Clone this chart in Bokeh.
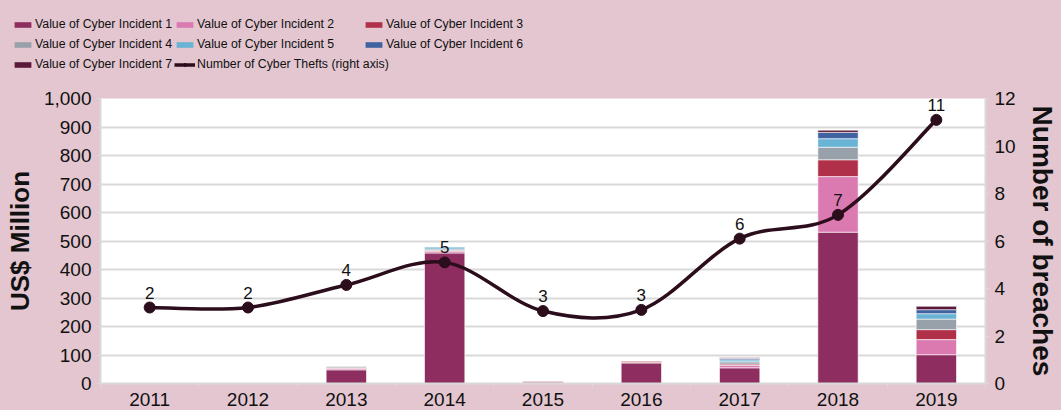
from bokeh.plotting import figure
from bokeh.layouts import column, row
from bokeh.models import (Range1d, LinearAxis, FixedTicker, NumeralTickFormatter,
                          Legend, LegendItem, ColumnDataSource)
from bokeh.core.properties import value
from bokeh.embed import file_html
from bokeh.resources import INLINE

years = [2011, 2012, 2013, 2014, 2015, 2016, 2017, 2018, 2019]
inc1 = [2, 2, 48, 458, 5, 72, 55, 531, 101]
inc2 = [1, 1, 5, 6, 2, 2, 8, 195, 53]
inc3 = [0, 0, 2, 3, 4, 6, 5, 59, 35]
inc4 = [0, 0, 7, 5, 0, 0, 8, 44, 37]
inc5 = [0, 0, 0, 8, 0, 0, 7, 30, 19]
inc6 = [0, 0, 0, 0, 0, 0, 5, 22, 14]
inc7 = [0, 0, 0, 0, 0, 0, 2, 8, 12]
# marker heights as drawn on the right axis, and the printed data labels
thefts = [3.2, 3.2, 4.15, 5.1, 3.05, 3.1, 6.1, 7.1, 11.1]
theft_labels = ["2", "2", "4", "5", "3", "3", "6", "7", "11"]

series_names = ["Value of Cyber Incident %d" % i for i in range(1, 8)]
line_name = "Number of Cyber Thefts (right axis)"
colors = ["#8E2D5F", "#DB79B1", "#B0304A", "#98A1A9", "#69B3D4", "#3F62A1", "#5B1A3C"]
line_color = "#2B0D1C"
bg = "#E3C6D0"
FONT = "Liberation Sans"

keys = ["s%d" % i for i in range(1, 8)]
src = ColumnDataSource(dict(x=years, s1=inc1, s2=inc2, s3=inc3, s4=inc4,
                            s5=inc5, s6=inc6, s7=inc7))

# ---------------- legend strip ----------------
lf = figure(width=1061, height=80, output_backend="svg", toolbar_location=None,
            x_range=Range1d(0, 1), y_range=Range1d(0, 1),
            x_axis_location=None, y_axis_location=None,
            min_border_left=0, min_border_right=0, min_border_top=0, min_border_bottom=0)
lf.background_fill_color = bg
lf.border_fill_color = bg
lf.outline_line_color = None
lf.xgrid.visible = False
lf.ygrid.visible = False

proxies = [lf.vbar(x=[5], top=[5], width=0.1, fill_color=c, line_color=None) for c in colors]
pl = lf.line([5, 6], [5, 5], line_color=line_color, line_width=3.5)
ps = lf.scatter([5], [5], size=7, fill_color=line_color, line_color=line_color)

cols = [[0, 3, 6], [1, 4, 7], [2, 5]]
xs = [12, 174, 363]
for ci, idxs in enumerate(cols):
    its = []
    for k in idxs:
        if k < 7:
            its.append(LegendItem(label=series_names[k], renderers=[proxies[k]]))
        else:
            its.append(LegendItem(label=line_name, renderers=[pl, ps]))
    nrow = len(idxs)
    h = nrow * 16 + (nrow - 1) * 4
    lg = Legend(items=its, orientation="vertical", location=(xs[ci], 80 - 16 - h),
                background_fill_alpha=0, border_line_color=None,
                label_text_font=FONT, label_text_font_size="12.3px",
                label_text_color="#111111", glyph_width=21, glyph_height=7,
                label_standoff=2, spacing=4, padding=0, margin=0, label_height=16)
    lf.add_layout(lg, "center")

# ---------------- main chart ----------------
p = figure(width=1061, height=330, output_backend="svg", toolbar_location=None,
           x_range=Range1d(2010.5, 2019.5), y_range=Range1d(0, 1000),
           min_border_left=100, min_border_right=76, min_border_top=18,
           min_border_bottom=27)
p.background_fill_color = "white"
p.border_fill_color = bg
p.outline_line_color = None
p.extra_y_ranges = {"right": Range1d(0, 12)}

bars = p.vbar_stack(keys, x="x", width=0.41, source=src, fill_color=colors,
                    line_color="white", line_width=0.6)

# smoothed line: bezier segments whose control points follow the data points
n = len(years)
x0, y0, x1, y1, cx0, cy0, cx1, cy1 = [], [], [], [], [], [], [], []
for i in range(n - 1):
    pm = i - 1 if i > 0 else i
    pp = i + 2 if i + 2 < n else i + 1
    x0.append(years[i]); y0.append(thefts[i])
    x1.append(years[i + 1]); y1.append(thefts[i + 1])
    cx0.append(years[i] + (years[i + 1] - years[pm]) / 6)
    cy0.append(thefts[i] + (thefts[i + 1] - thefts[pm]) / 6)
    cx1.append(years[i + 1] - (years[pp] - years[i]) / 6)
    cy1.append(thefts[i + 1] - (thefts[pp] - thefts[i]) / 6)
p.bezier(x0=x0, y0=y0, x1=x1, y1=y1, cx0=cx0, cy0=cy0, cx1=cx1, cy1=cy1,
         line_color=line_color, line_width=3.5, y_range_name="right")
p.scatter(years, thefts, size=11, fill_color=line_color, line_color=line_color,
          y_range_name="right")
p.text(years, thefts, text=theft_labels, y_range_name="right",
       y_offset=-9, text_align="center", text_baseline="bottom",
       text_font=value(FONT), text_font_size="17px", text_color="#111111")

# axes
p.xaxis.ticker = FixedTicker(ticks=years, minor_ticks=[y + 0.5 for y in [2010] + years])
p.yaxis.ticker = FixedTicker(ticks=list(range(0, 1001, 100)))
p.yaxis.formatter = NumeralTickFormatter(format="0,0")
ra = LinearAxis(y_range_name="right", ticker=FixedTicker(ticks=list(range(0, 13, 2))))
p.add_layout(ra, "right")
p.yaxis[0].axis_label = "US$ Million"
ra.axis_label = "Number of breaches"
for ax in p.xaxis + p.yaxis:
    ax.axis_line_color = "#D9D9D9"
    ax.axis_line_width = 2
    ax.major_tick_line_color = "#D9D9D9"
    ax.major_tick_in = 0
    ax.major_tick_out = 4
    ax.minor_tick_line_color = None
    ax.major_label_text_font = FONT
    ax.major_label_text_font_size = "19px"
    ax.major_label_text_color = "#111111"
    ax.axis_label_text_font = FONT
    ax.axis_label_text_font_size = "26px"
    ax.axis_label_text_font_style = "bold"
    ax.axis_label_text_color = "#111111"
ra.axis_label_text_font_size = "28px"
p.xaxis.major_tick_line_color = None
p.xaxis.minor_tick_line_color = "#D9D9D9"
p.xaxis.minor_tick_out = 5
p.xaxis.minor_tick_in = 0
p.xaxis.major_label_standoff = 4
p.yaxis[0].axis_label_standoff = 6
ra.axis_label_standoff = 8
p.xgrid.grid_line_color = None
p.ygrid.grid_line_color = "#D9D9D9"
p.ygrid.grid_line_width = 2

layout = column(row(lf), p, spacing=0)
html = file_html(layout, INLINE)
html = html.replace("<head>", "<head><style>html,body{margin:0;background:%s;}</style>" % bg, 1)
open("out.html", "w").write(html)
